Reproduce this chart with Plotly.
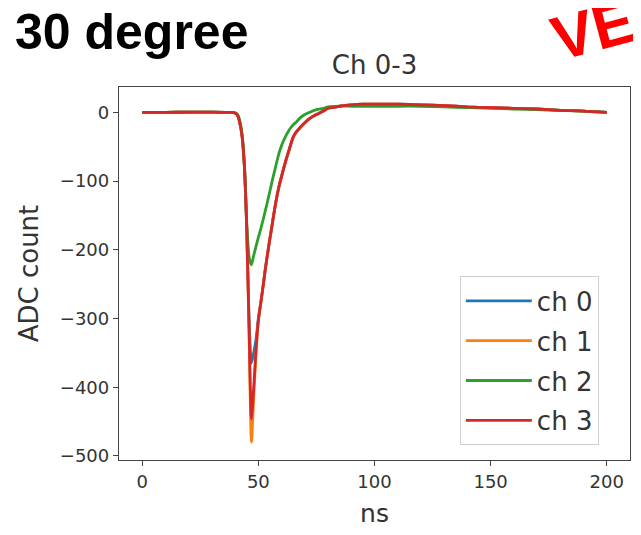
import plotly.graph_objects as go

# sample times (ns)
t_ns = [0, 10, 20, 30, 38, 40, 41, 42, 43, 44, 45, 46, 47, 48, 49, 50, 51, 52, 53, 54,
        55, 56, 57, 58, 59, 60, 61, 62, 63, 64, 65, 66, 68, 70, 72, 75, 78, 80, 85, 90, 95,
        100, 110, 120, 130, 140, 150, 160, 170, 180, 190, 200]

ch0 = [0, 0, 0.5, 0.5, 0, -1, -4, -15, -35, -80, -170, -300, -365, -350, -330, -300, -278, -254,
       -228, -205, -183, -162, -141, -122, -106, -93, -80, -68, -57, -46, -36, -30, -22, -15, -9,
       -3, 2, 6, 9, 11, 12, 12, 12, 11, 10, 8, 7, 6, 5, 3, 2, 0]
ch1 = [0, 0, 0.5, 0.5, 0, -1, -4, -15, -35, -80, -170, -320, -480, -415, -350, -303, -278, -254,
       -228, -205, -183, -162, -141, -122, -106, -93, -80, -68, -57, -46, -36, -30, -22, -15, -9,
       -3, 2, 6, 9, 11, 12, 12, 12, 11, 10, 8, 7, 6, 5, 3, 2, 0]
ch2 = [0, 0, 0.5, 0.5, 0, -1, -3, -12, -32, -75, -160, -210, -222, -208, -195, -182, -170, -157,
       -143, -129, -114, -99, -85, -71, -58, -48, -40, -33, -27, -22, -18, -15, -8, -3, 0,
       4, 6, 8, 9, 9, 9, 9, 9, 9, 8, 7, 6, 5, 4, 3, 2, 0]
ch3 = [0, 0, 0.5, 0.5, 0, -1, -4, -15, -35, -80, -170, -315, -446, -400, -345, -303, -278, -254,
       -228, -205, -183, -162, -141, -122, -106, -93, -80, -68, -57, -46, -36, -30, -22, -15, -9,
       -3, 2, 6, 9, 11, 12, 12, 12, 11, 10, 8, 7, 6, 5, 3, 2, 0]

names = ["ch 0", "ch 1", "ch 2", "ch 3"]
colors = ["#1f77b4", "#ff7f0e", "#2ca02c", "#d62728"]
series = [ch0, ch1, ch2, ch3]

x_ticks = [0, 50, 100, 150, 200]
y_ticks = [0, -100, -200, -300, -400, -500]

fig = go.Figure()
for nm, col, ys in zip(names, colors, series):
    fig.add_trace(go.Scatter(x=t_ns, y=ys, mode="lines", name=nm, legendgroup=nm,
                             line=dict(color=col, width=2.8, shape="spline", smoothing=0.6)))

axis_common = dict(showline=True, mirror=True, linecolor="#444", linewidth=1.3,
                   ticks="outside", ticklen=5, tickcolor="#444", showgrid=False,
                   zeroline=False, automargin=False,
                   tickfont=dict(family="DejaVu Sans", size=18, color="#333"))

# page body has an 8px offset, so the figure is 8px smaller than the window
fig.update_layout(
    width=633, height=527,
    margin=dict(l=111, r=11, t=79, b=75),
    paper_bgcolor="white", plot_bgcolor="white",
    xaxis=dict(range=[-10, 210], tickvals=x_ticks,
               title=dict(text="ns", font=dict(family="DejaVu Sans", size=25, color="#333"), standoff=13),
               **axis_common),
    yaxis=dict(range=[-506, 37], tickvals=y_ticks,
               title=dict(text="ADC count", font=dict(family="DejaVu Sans", size=26, color="#333"), standoff=13),
               **axis_common),
    title=dict(text="Ch 0-3", x=0.5, xref="paper", xanchor="center", y=1 - 57 / 527, yref="container",
               yanchor="middle", font=dict(family="DejaVu Sans", size=26, color="#333")),
    legend=dict(x=0.667, y=0.492, xanchor="left", yanchor="top", bgcolor="rgba(255,255,255,0.8)",
                bordercolor="#d0d0d0", borderwidth=1, tracegroupgap=3, itemwidth=66,
                font=dict(family="DejaVu Sans", size=26, color="#333")),
    showlegend=True,
)

fig.add_annotation(text="<b>30 degree</b>", xref="paper", yref="paper", x=(13 - 119) / 511,
                   y=(460 - 32) / 373, xanchor="left", yanchor="middle", showarrow=False,
                   font=dict(family="Liberation Sans", size=50, color="black"))
fig.add_annotation(text="<b>VE</b>", xref="paper", yref="paper", x=(593 - 119) / 511,
                   y=(460 - 30) / 373, xanchor="center", yanchor="middle", showarrow=False,
                   textangle=-15, font=dict(family="Liberation Sans", size=62, color="#ff0000"))

fig.write_html("out.html")
